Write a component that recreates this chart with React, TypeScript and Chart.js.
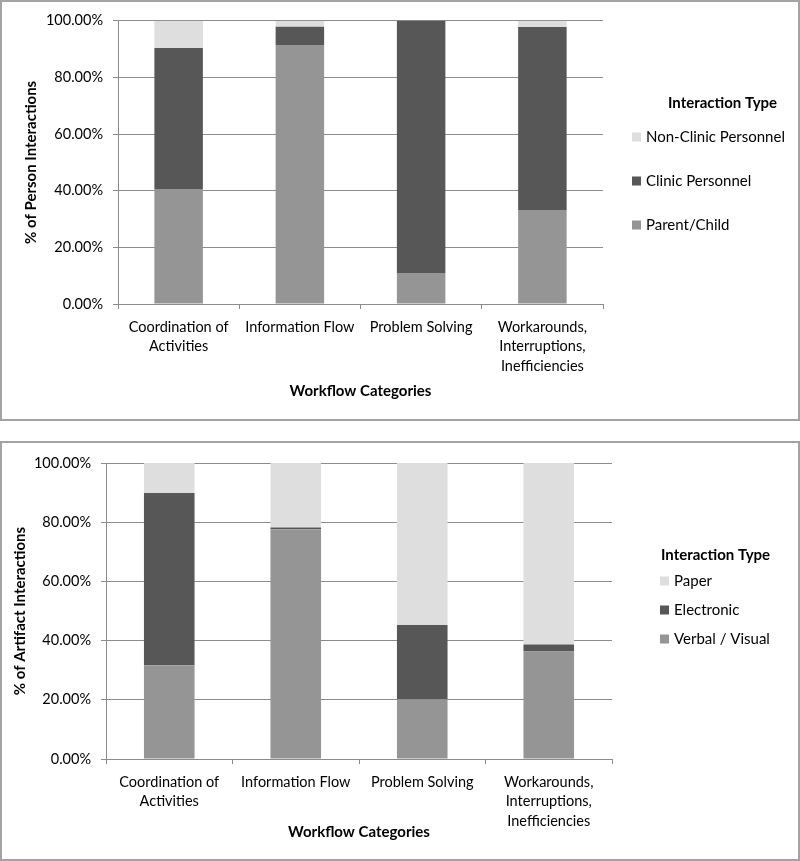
import React, { useEffect, useRef } from "react";
import { Chart, registerables } from "chart.js";

Chart.register(...registerables);

// ---------- data ----------
const categories: string[][] = [
  ["Coordination of", "Activities"],
  ["Information Flow"],
  ["Problem Solving"],
  ["Workarounds,", "Interruptions,", "Inefficiencies"],
];

const personParentChild = [40.6, 91.4, 10.9, 33.2];
const personClinic = [49.8, 6.5, 89.1, 64.6];
const personNonClinic = [9.6, 2.1, 0, 2.2];

const artifactVerbalVisual = [31.7, 77.6, 20.2, 36.3];
const artifactElectronic = [58.2, 0.6, 25.1, 2.4];
const artifactPaper = [10.1, 21.8, 54.7, 61.3];

const yMin = 0;
const yMax = 100;
const yStep = 20;

const personLabels = ["Parent/Child", "Clinic Personnel", "Non-Clinic Personnel"];
const artifactLabels = ["Verbal / Visual", "Electronic", "Paper"];
const legendTitle = "Interaction Type";
const xTitle = "Workflow Categories";
const personYTitle = "% of Person Interactions";
const artifactYTitle = "% of Artifact Interactions";

// ---------- styles ----------
const FONT = "Lato, 'Open Sans', sans-serif";
const MID = "#959595";
const DARK = "#575757";
const LIGHT = "#dedede";
const GRID = "#8c8c8c";

const sideLegend = {
  id: "sideLegend",
  afterDraw(chart: any, _args: any, opts: any) {
    const ctx = chart.ctx as CanvasRenderingContext2D;
    ctx.save();
    ctx.textBaseline = "middle";
    ctx.textAlign = "left";
    ctx.fillStyle = "#000";
    ctx.font = `bold ${opts.titleSize}px ${FONT}`;
    ctx.fillText(opts.title, opts.titleX, opts.titleY);
    ctx.font = `${opts.labelSize}px ${FONT}`;
    const ds = chart.data.datasets.slice().reverse();
    ds.forEach((d: any, i: number) => {
      const y = opts.firstY + i * opts.gap;
      ctx.fillStyle = d.backgroundColor;
      ctx.fillRect(opts.boxX, y - opts.box / 2, opts.box, opts.box);
      ctx.fillStyle = "#000";
      ctx.fillText(d.label, opts.textX, y);
    });
    ctx.restore();
  },
};

interface Geo {
  width: number;
  height: number;
  padTop: number;
  padRight: number;
  yAxisWidth: number;
  xAxisHeight: number;
  yTitlePad: number;
  xTitlePad: number;
  legend: any;
}

function StackChart(props: {
  labels: string[];
  series: number[][];
  colors: string[];
  yTitle: string;
  geo: Geo;
}) {
  const ref = useRef<HTMLCanvasElement>(null);
  useEffect(() => {
    const g = props.geo;
    const chart = new Chart(ref.current as HTMLCanvasElement, {
      type: "bar",
      data: {
        labels: categories as any,
        datasets: props.series.map((s, i) => ({
          label: props.labels[i],
          data: s,
          backgroundColor: props.colors[i],
          borderWidth: 0,
          barPercentage: 0.4,
          categoryPercentage: 1,
        })),
      },
      options: {
        responsive: false,
        animation: false,
        layout: { padding: { top: g.padTop, right: g.padRight, left: 0, bottom: 0 } },
        plugins: {
          legend: { display: false },
          tooltip: { enabled: false },
          sideLegend: g.legend,
        } as any,
        scales: {
          x: {
            stacked: true,
            grid: {
              drawOnChartArea: false,
              drawTicks: true,
              tickLength: 5,
              offset: true,
              color: GRID,
            },
            border: { color: GRID },
            ticks: {
              color: "#000",
              padding: 8,
              maxRotation: 0,
              autoSkip: false,
              font: { family: FONT, size: 14.5, lineHeight: 1.36 },
            },
            title: {
              display: true,
              text: xTitle,
              color: "#000",
              font: { family: FONT, size: 15, weight: "bold" },
              padding: { top: 0, bottom: g.xTitlePad },
            },
            afterFit: (scale: any) => {
              scale.height = g.xAxisHeight;
            },
          },
          y: {
            stacked: true,
            min: yMin,
            max: yMax,
            grid: { color: GRID, tickLength: 5, drawTicks: true },
            border: { color: GRID },
            ticks: {
              stepSize: yStep,
              color: "#000",
              padding: 10,
              font: { family: FONT, size: 14.5 },
              callback: (v: any) => Number(v).toFixed(2) + "%",
            },
            title: {
              display: true,
              text: props.yTitle,
              color: "#000",
              font: { family: FONT, size: 15, weight: "bold" },
              padding: { top: g.yTitlePad, bottom: 0 },
            },
            afterFit: (scale: any) => {
              scale.width = g.yAxisWidth;
            },
          },
        },
      },
      plugins: [sideLegend],
    } as any);
    return () => chart.destroy();
  }, []);
  return (
    <canvas
      ref={ref}
      width={props.geo.width}
      height={props.geo.height}
      style={{ display: "block", width: props.geo.width, height: props.geo.height }}
    />
  );
}

const boxStyle = (top: number, height: number): React.CSSProperties => ({
  position: "absolute",
  left: 0,
  top,
  width: 800,
  height,
  boxSizing: "border-box",
  border: "2px solid #a3a3a3",
  background: "#fff",
});

export default function App() {
  const topGeo: Geo = {
    width: 796,
    height: 417,
    padTop: 16,
    padRight: 195,
    yAxisWidth: 116,
    xAxisHeight: 115,
    yTitlePad: 20,
    xTitlePad: 19,
    legend: {
      title: legendTitle,
      titleSize: 15,
      labelSize: 15,
      titleX: 666,
      titleY: 101,
      boxX: 630,
      textX: 644,
      box: 9,
      firstY: 135,
      gap: 44,
    },
  };
  const botGeo: Geo = {
    width: 796,
    height: 416,
    padTop: 20,
    padRight: 186,
    yAxisWidth: 104,
    xAxisHeight: 100,
    yTitlePad: 9,
    xTitlePad: 18,
    legend: {
      title: legendTitle,
      titleSize: 15,
      labelSize: 15,
      titleX: 659,
      titleY: 112,
      boxX: 658,
      textX: 672,
      box: 9,
      firstY: 138,
      gap: 29,
    },
  };
  return (
    <div>
      <div style={boxStyle(0, 421)}>
        <StackChart
          labels={personLabels}
          series={[personParentChild, personClinic, personNonClinic]}
          colors={[MID, DARK, LIGHT]}
          yTitle={personYTitle}
          geo={topGeo}
        />
      </div>
      <div style={boxStyle(441, 420)}>
        <StackChart
          labels={artifactLabels}
          series={[artifactVerbalVisual, artifactElectronic, artifactPaper]}
          colors={[MID, DARK, LIGHT]}
          yTitle={artifactYTitle}
          geo={botGeo}
        />
      </div>
    </div>
  );
}
